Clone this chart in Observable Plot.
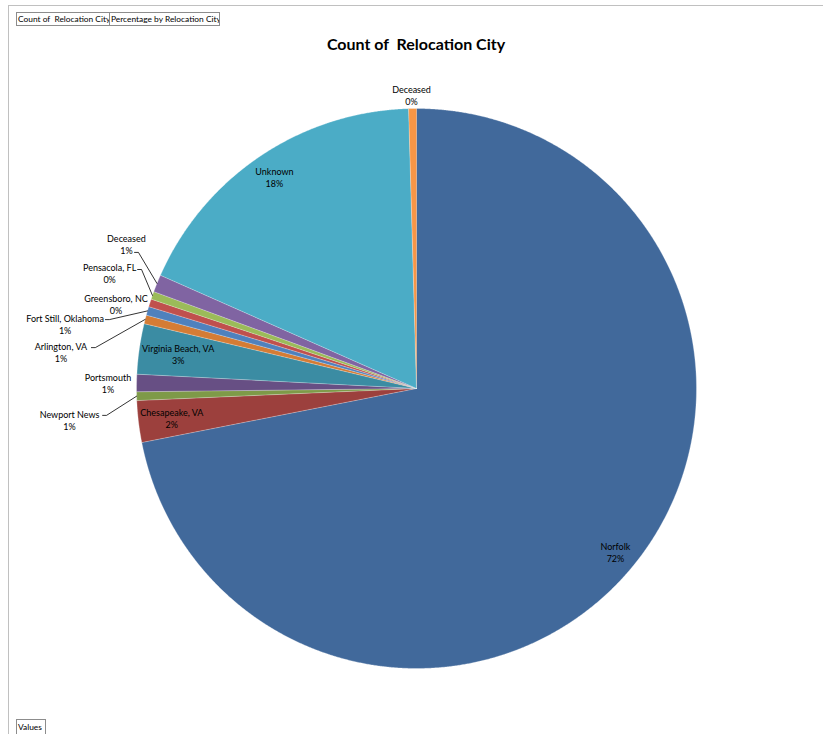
<!DOCTYPE html>
<html><head><meta charset="utf-8">
<script src="https://cdn.jsdelivr.net/npm/d3@7"></script>
<script src="https://cdn.jsdelivr.net/npm/@observablehq/plot@0.6"></script>
<style>
body{margin:0;background:#fff;font-family:Lato,sans-serif;}
#wrap{position:relative;width:827px;height:734px;overflow:hidden;background:#fff;}
#chart{position:absolute;left:0;top:0;}
.frame-top{position:absolute;left:8px;top:5px;width:815px;height:0;border-top:1px solid #c0c0c0;}
.frame-left{position:absolute;left:8px;top:5px;width:0;height:729px;border-left:1px solid #c0c0c0;}
.btn{position:absolute;height:14px;border:1px solid #8c8c8c;font-size:8.4px;line-height:12px;padding:0 1px;box-sizing:border-box;white-space:pre;color:#000;background:#fff;overflow:hidden;}
#title{position:absolute;top:34px;left:0;width:832px;text-align:center;font-weight:bold;font-size:16px;line-height:20px;white-space:pre;color:#000;}
</style>
</head><body>
<div id="wrap">
  <div class="frame-top"></div>
  <div class="frame-left"></div>
  <div class="btn" id="b1" style="left:16px;top:12px;width:94px;"></div>
  <div class="btn" id="b2" style="left:109px;top:12px;width:111px;"></div>
  <div class="btn" id="b3" style="left:16px;top:719px;width:30px;height:16px;line-height:14px;"></div>
  <div id="title"></div>
  <div id="chart"></div>
</div>
<script>
// ---- data ----
const titleText = "Count of  Relocation City";
const fieldButtons = ["Count of  Relocation City", "Percentage by Relocation City", "Values"];
const cities = ["Norfolk", "Chesapeake, VA", "Newport News", "Portsmouth", "Virginia Beach, VA",
  "Arlington, VA", "Fort Still, Oklahoma", "Greensboro, NC", "Pensacola, FL", "Deceased", "Unknown", "Deceased"];
const shares = [71.8, 2.4, 0.5, 1.0, 2.9, 0.5, 0.5, 0.45, 0.45, 1.0, 17.9, 0.45];
const pctLabels = ["72%", "2%", "1%", "1%", "3%", "1%", "1%", "0%", "0%", "1%", "18%", "0%"];
const colors = ["#41699b", "#9c403d", "#7e9a48", "#674f84", "#3b8ca3", "#d47c35",
  "#4f81bd", "#c0504d", "#9bbb59", "#8064a2", "#4bacc6", "#f79646"];

// ---- label placement (pie units, radius = 1) ----
const labelLayout = [
  {inside: 0.92},
  {inside: 0.88},
  {at: [-1.239, -0.114], leader: [-1.121, -0.096]},
  {at: [-1.102, 0.019]},
  {inside: 0.86},
  {at: [-1.270, 0.131], leader: [-1.161, 0.146]},
  {at: [-1.255, 0.229], leader: [-1.111, 0.246]},
  {at: [-1.073, 0.302]},
  {at: [-1.096, 0.411], leader: [-0.996, 0.425]},
  {at: [-1.036, 0.515], leader: [-1.007, 0.486]},
  {inside: 0.91},
  {at: [-0.018, 1.046]}
];

document.getElementById("title").textContent = titleText;
document.getElementById("b1").textContent = fieldButtons[0];
document.getElementById("b2").textContent = fieldButtons[1];
document.getElementById("b3").textContent = fieldButtons[2];

const arcs = d3.pie().sort(null).value(d => d)(shares);
const polar = (r, a) => ({x: r * Math.sin(a), y: r * Math.cos(a)});

const slicePts = [];
arcs.forEach((a, i) => {
  slicePts.push({i, color: colors[i], ...polar(0, 0)});
  const n = Math.max(2, Math.ceil((a.endAngle - a.startAngle) / 0.004));
  for (let k = 0; k <= n; k++) {
    const t = a.startAngle + (a.endAngle - a.startAngle) * k / n;
    slicePts.push({i, color: colors[i], ...polar(1, t)});
  }
});

const labels = [];
const leaders = [];
arcs.forEach((a, i) => {
  const mid = (a.startAngle + a.endAngle) / 2;
  const L = labelLayout[i];
  let p;
  if (L.inside) p = polar(L.inside, mid);
  else p = {x: L.at[0], y: L.at[1]};
  labels.push({x: p.x, y: p.y, t: cities[i] + "\n" + pctLabels[i]});
  if (L.leader) {
    const e = polar(1, mid);
    leaders.push({i, x: L.leader[0], y: L.leader[1]});
    leaders.push({i, x: L.leader[0] + 0.014, y: L.leader[1]});
    leaders.push({i, x: e.x, y: e.y});
  }
});

const chart = Plot.plot({
  width: 827,
  height: 734,
  x: {domain: [-1, 1], range: [136, 696], axis: null},
  y: {domain: [-1, 1], range: [668, 108], axis: null},
  style: {fontFamily: "Lato, sans-serif", background: "transparent"},
  marks: [
    Plot.line(slicePts, {x: "x", y: "y", z: "i", fill: "color", stroke: "#ffffff", strokeWidth: 0.5, strokeOpacity: 0.6, curve: "linear"}),
    Plot.line(leaders, {x: "x", y: "y", z: "i", stroke: "#000", strokeWidth: 0.8, curve: "linear"}),
    Plot.text(labels, {x: "x", y: "y", text: "t", fontSize: 9, lineHeight: 1.33, fill: "#000", textAnchor: "middle"})
  ]
});
document.getElementById("chart").appendChild(chart);
</script>
</body></html>
